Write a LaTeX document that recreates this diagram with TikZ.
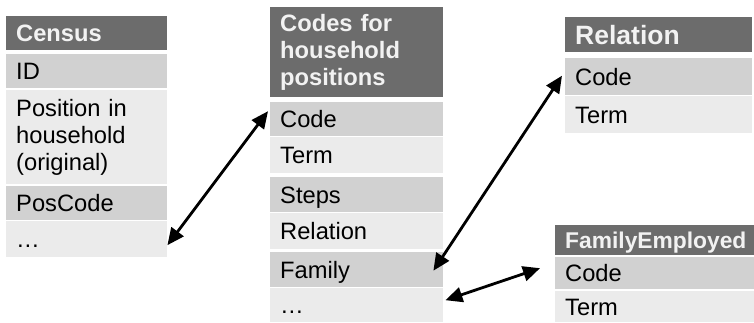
\documentclass[tikz,border=0pt]{standalone}
\usepackage{fontspec}
\setmainfont{Liberation Sans}
\usetikzlibrary{arrows.meta}
\definecolor{headgray}{HTML}{6C6C6C}
\definecolor{rowdark}{HTML}{D1D1D1}
\definecolor{rowlight}{HTML}{EBEBEB}
\definecolor{headtext}{HTML}{F2F2F2}
\tikzset{
  cell/.style={anchor=north west, rectangle, inner ysep=0pt, inner xsep=10pt,
    align=left, text=black, font=\fontsize{23.7}{27}\selectfont},
  oneline/.style={text height=#1, text depth=0pt},
  oneline/.default=17pt,
  head/.style={cell, fill=headgray, text=headtext,
    font=\fontsize{23.7}{27}\selectfont\bfseries},
  dark/.style={cell, oneline, fill=rowdark},
  light/.style={cell, oneline, fill=rowlight},
  sz/.style 2 args={text width=#1, minimum height=#2},
  link/.style={line width=2.8pt, {Triangle[length=17pt,width=15pt]}-{Triangle[length=17pt,width=15pt]}},
}
\begin{document}
\begin{tikzpicture}[x=1pt,y=-1pt]
\useasboundingbox (0,0) rectangle (754,322);

% Census table
\node[head, oneline, sz={141pt}{34pt}] (census)  at (6,16)  {Census};
\node[dark,  sz={141pt}{34pt}] (cid)     at (6,54)  {ID};
\node[cell, fill=rowlight, sz={141pt}{94pt}] (cpos) at (6,90) {Position in\\household\\(original)};
\node[dark,  sz={141pt}{34pt}] (cposc)   at (6,186) {PosCode};
\node[light, sz={141pt}{36pt}] (cdots)   at (6,221) {…};

% Codes for household positions
\node[head,  sz={153pt}{90pt}] (codes)   at (270,7)   {Codes for\\household\\positions};
\node[dark,  sz={153pt}{34pt}] (kcode)   at (270,102) {Code};
\node[light, sz={153pt}{36pt}] (kterm)   at (270,137) {Term};
\node[dark,  sz={153pt}{35pt}] (ksteps)  at (270,177) {Steps};
\node[light, sz={153pt}{36pt}] (krel)    at (270,213) {Relation};
\node[dark,  sz={153pt}{35pt}] (kfam)    at (270,252) {Family};
\node[light, sz={153pt}{34pt}] (kdots)   at (270,288) {…};

% Relation table
\begin{scope}[every node/.append style={font=\fontsize{26.5}{30}\selectfont, inner xsep=11pt, oneline=19pt}]
\node[head,  sz={167pt}{35pt}, font=\fontsize{26.5}{30}\selectfont\bfseries] (rel) at (565,17) {Relation};
\node[dark,  sz={167pt}{37pt}] (rcode) at (565,58) {Code};
\node[light, sz={167pt}{37pt}] (rterm) at (565,96) {Term};
\end{scope}

% FamilyEmployed table
\begin{scope}[every node/.append style={font=\fontsize{22.8}{26}\selectfont, inner xsep=8pt, oneline=16.3pt}]
\node[head,  sz={183pt}{30pt}, font=\fontsize{22.8}{26}\selectfont\bfseries] (fam) at (555,225) {FamilyEmployed};
\node[dark,  sz={183pt}{32pt}] (fcode) at (555,257) {Code};
\node[light, sz={183pt}{31pt}] (fterm) at (555,291) {Term};
\end{scope}

% Links between the tables
\draw[link] ([yshift=-6pt]cdots.east) -- ([xshift=-2pt,yshift=8pt]kcode.west);
\draw[link] ([xshift=-10pt,yshift=-1pt]kfam.east) -- ([xshift=-3pt,yshift=1pt]rcode.west);
\draw[link] ([xshift=2pt,yshift=5pt]kdots.east) -- ([xshift=-15pt,yshift=5pt]fcode.west);
\end{tikzpicture}
\end{document}
